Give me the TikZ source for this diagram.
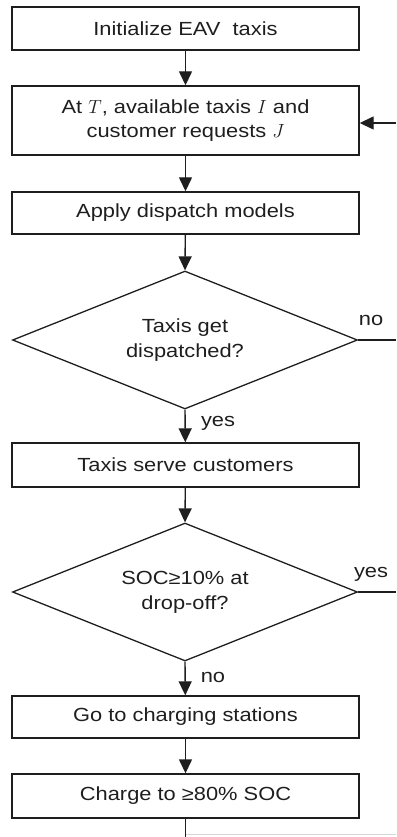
\RequirePackage{fix-cm}
\documentclass[tikz,border=0pt]{standalone}
\usepackage{fontspec}
\setmainfont{Liberation Sans}[FakeStretch=1.15]
\usetikzlibrary{shapes.geometric,arrows.meta}
\definecolor{ink}{RGB}{30,30,30}
\definecolor{faintline}{RGB}{215,215,215}
\begin{document}
\begin{tikzpicture}[x=1pt,y=-1pt,
  every node/.style={font=\fontsize{19}{24}\selectfont, text=ink},
  procbox/.style={draw=ink, line width=1.4pt, rectangle, minimum width=347pt, inner sep=0pt, align=center},
  decision/.style={draw=ink, line width=1.3pt, diamond, shape aspect=2.5, minimum width=345pt, minimum height=138pt, inner sep=0pt, align=center},
  flow/.style={draw=ink, line width=1.4pt, -{Triangle[length=14pt,width=13pt]}},
  link/.style={draw=ink, line width=1.4pt},
  faint/.style={draw=faintline, line width=1pt},
  tag/.style={inner sep=0pt}
]
\useasboundingbox (0,0) rectangle (396,837);

% process steps and decisions
\node[procbox, minimum height=43pt] (init) at (185.5,28.5) {Initialize EAV\ \ taxis};
\node[procbox, minimum height=69pt] (state) at (185.5,120.5) {At\ $T$, available taxis $I$\ and\\customer requests $J$};
\node[procbox, minimum height=42pt] (apply) at (185.5,213) {Apply dispatch models};
\node[decision] (dispatched) at (185,340) {Taxis get\\[1pt]dispatched?};
\node[procbox, minimum height=44pt] (serve) at (185.5,465) {Taxis serve customers};
\node[decision] (soc) at (185,592) {SOC≥10\% at\\[1pt]drop-off?};
\node[procbox, minimum height=42pt] (goto) at (185.5,717) {Go to charging stations};
\node[procbox, minimum height=44pt] (charge) at (185.5,796) {Charge to ≥80\% SOC};

% branch labels
\node[tag] (nolbl) at (371,320) {no};
\node[tag] (yeslbl) at (218,423) {yes};
\node[tag] (yes2lbl) at (371,574) {yes};
\node[tag] (no2lbl) at (213,677) {no};

% free ends of the loop lines
\coordinate (loopin) at (396,123);
\coordinate (noend) at (396,340);
\coordinate (yesend) at (396,592);
\coordinate (chgout) at (185.5,837);
\coordinate (loopfoot) at (396,834);

% connectors
\draw[flow] (init) -- (state);
\draw[flow] (state) -- (apply);
\draw[flow] (apply) -- (dispatched.north);
\draw[flow] (dispatched.south) -- (serve);
\draw[flow] (serve) -- (soc.north);
\draw[flow] (soc.south) -- (goto);
\draw[flow] (goto) -- (charge);
\draw[flow] (loopin) -- (loopin -| state.east);
\draw[link] (dispatched.east) -- (noend);
\draw[link] (soc.east) -- (yesend);
\draw[faint] (charge.south |- loopfoot) -- (loopfoot);
\draw[link] (charge.south) -- (chgout);
\end{tikzpicture}
\end{document}
